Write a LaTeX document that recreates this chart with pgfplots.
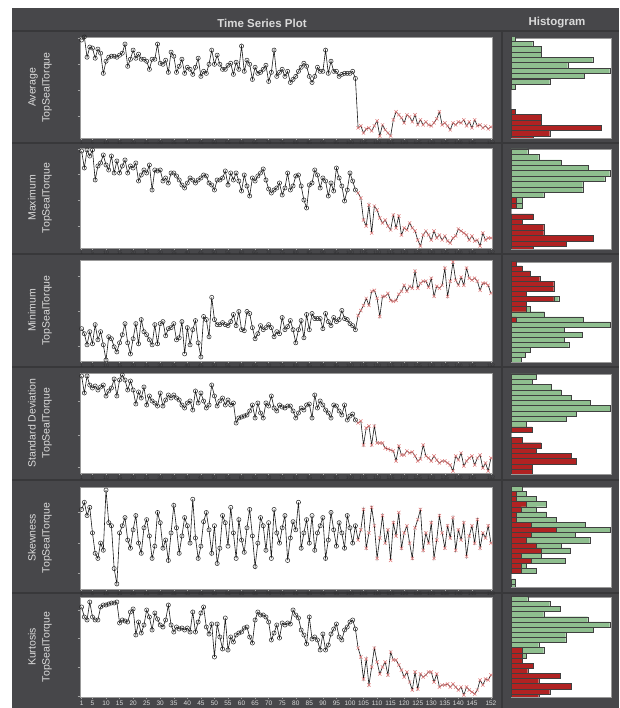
\documentclass[border=0pt]{standalone}
\usepackage{pgfplots}
\pgfplotsset{compat=1.18}
\usepackage{pgfplotstable}
\usepackage{fontspec}
\setmainfont{Liberation Sans}
\definecolor{bg}{HTML}{47474A}
\definecolor{sepc}{HTML}{38383A}
\definecolor{lbl}{HTML}{DADADA}
\definecolor{tickdark}{HTML}{303032}
\definecolor{hgreen}{HTML}{8FBF8F}
\definecolor{hred}{HTML}{B02222}
\definecolor{xred}{HTML}{E07A7A}

\pgfplotstableread{
i a b c d e f
1 97 97 32 97 78 90
2 100 80 27 80 85 80
3 80 98 16 97 72 77
4 90 92 29 88 80 95
5 89 98 17 85 55 80
6 79 68 36 87 35 77
7 88 82 21 83 30 77
8 84 85 29 86 45 90
9 64 93 16 88 38 92
10 76 83 1 77 97 92
11 80 78 24 82 65 93
12 81 92 22 85 62 94
13 81 75 14 94 20 94
14 80 87 9 77 5 95
15 82 75 18 93 55 74
16 84 82 26 98 62 77
17 93 88 37 93 70 76
18 71 75 18 83 48 75
19 78 82 7 92 40 85
20 87 80 22 83 58 88
21 79 85 37 69 72 62
22 83 67 17 81 45 75
23 78 73 41 75 35 64
24 78 78 29 86 60 72
25 76 75 26 68 68 87
26 68 83 21 77 52 80
27 78 58 16 72 30 67
28 78 78 36 70 42 84
29 93 77 17 67 75 78
30 74 78 37 80 65 72
31 73 67 39 67 40 70
32 77 70 25 73 48 77
33 65 65 32 78 28 92
34 85 75 33 75 55 72
35 81 75 37 78 82 65
36 65 72 21 75 60 70
37 71 68 23 73 35 68
38 78 63 39 68 52 69
39 64 60 7 65 70 67
40 70 65 33 70 62 69
41 68 70 16 72 45 65
42 63 68 31 63 88 85
43 70 65 40 82 50 65
44 79 68 18 70 30 75
45 61 70 4 80 42 84
46 66 73 44 72 66 90
47 64 72 41 65 75 70
48 73 65 24 68 58 63
49 87 63 63 88 35 73
50 73 58 41 77 62 40
51 82 68 36 67 25 73
52 73 68 36 72 40 60
53 68 70 38 75 72 48
54 68 77 36 68 65 79
55 72 63 35 73 42 47
56 74 75 39 68 80 60
57 63 68 46 70 55 55
58 75 75 35 50 30 62
59 68 67 49 55 68 64
60 91 57 31 56 48 65
61 66 73 30 57 36 69
62 77 62 49 58 60 70
63 73 52 47 62 78 60
64 58 70 33 68 52 54
65 70 67 22 55 22 77
66 64 72 27 70 45 85
67 65 75 35 60 70 82
68 68 79 31 55 62 82
69 72 68 33 70 38 80
70 56 59 36 67 65 75
71 65 55 33 77 30 57
72 87 58 24 65 78 64
73 61 60 29 62 55 72
74 65 65 27 68 45 59
75 68 53 43 66 60 74
76 61 60 31 65 72 72
77 66 75 34 67 28 74
78 55 58 40 67 50 73
79 58 62 31 62 66 87
80 61 72 18 55 58 82
81 66 73 31 60 85 79
82 70 62 40 65 40 67
83 74 48 23 63 55 62
84 71 40 46 68 68 53
85 61 63 31 69 45 80
86 55 65 47 55 72 58
87 61 78 42 78 38 60
88 70 73 42 65 55 57
89 66 60 42 72 62 47
90 66 70 32 68 70 63
91 87 67 47 63 30 47
92 64 52 39 60 48 52
93 76 65 35 55 75 63
94 66 57 43 68 58 68
95 66 80 39 67 42 73
96 61 70 41 62 65 60
97 63 62 50 58 55 57
98 64 47 42 68 40 67
99 64 58 41 53 72 70
100 64 75 37 57 60 75
101 66 67 35 59 45 77
102 59 58 31 53 62 68
103 10 55 45 50 48 49
104 12 50 50 52 58 40
105 5 28 55 28 78 18
106 9 22 62 45 40 38
107 10 43 55 47 55 12
108 7 15 69 28 80 30
109 12 42 70 47 62 49
110 17 38 62 30 30 35
111 2 30 44 30 50 23
112 13 25 64 30 72 30
113 8 28 64 25 45 35
114 5 22 67 24 58 22
115 2 18 60 23 28 45
116 18 33 59 22 65 37
117 26 20 60 12 52 37
118 23 32 66 27 75 32
119 20 13 69 18 40 27
120 15 20 75 18 55 20
121 23 18 69 22 62 25
122 21 25 74 20 45 15
123 16 20 72 21 30 7
124 23 17 89 17 60 25
125 13 8 72 12 68 8
126 18 2 77 14 78 23
127 13 13 79 28 38 20
128 16 17 79 17 55 22
129 13 13 73 15 45 25
130 12 8 82 12 65 25
131 15 17 64 17 30 15
132 19 10 74 13 48 23
133 26 13 72 10 72 10
134 13 8 75 12 55 12
135 15 12 92 12 40 12
136 12 7 64 10 62 13
137 8 5 79 8 50 10
138 15 10 98 2 70 13
139 13 12 80 17 38 10
140 16 19 75 13 58 7
141 15 17 83 20 48 10
142 18 15 75 7 65 2
143 12 13 92 12 32 10
144 16 8 82 15 52 7
145 10 12 80 17 62 5
146 18 7 82 8 45 3
147 12 8 79 15 68 7
148 13 2 70 18 40 17
149 10 15 77 5 55 12
150 12 8 77 10 50 18
151 9 10 75 2 62 17
152 11 10 67 15 45 22
}\ts

\pgfplotsset{
  tsax/.style={
    scale only axis, width=412pt, height=100pt, anchor=north west,
    xmin=0.4, xmax=152.4, ymin=0, ymax=100,
    axis background/.style={fill=white},
    axis line style={draw=black!40, line width=0.5pt},
    tick align=outside, major tick length=2.5pt, tick pos=left,
    tick style={draw=black!35, line width=0.5pt},
    xtick={1,5,10,15,20,25,30,35,40,45,50,55,60,65,70,75,80,85,90,95,100,105,110,115,120,125,130,135,140,145,152},
    yticklabels={},
    typeset ticklabels with strut,
    /pgf/number format/assume math mode=true,
    xticklabel style={font=\fontsize{5}{5}\selectfont, text=tickdark, inner sep=0.8pt},
  },
  hax/.style={
    scale only axis, width=100pt, height=100pt, anchor=north west,
    xmin=0, xmax=100, ymin=0, ymax=100,
    axis background/.style={fill=white},
    axis line style={draw=black!40, line width=0.5pt},
    ticks=none,
  },
  gbar/.style={xbar, bar shift=0pt, fill=hgreen, draw=black!75, line width=0.4pt},
  rbar/.style={xbar, bar shift=0pt, fill=hred, draw=black!75, line width=0.4pt},
}

\newcommand{\tsplots}[1]{%
  \addplot[black!90, line width=0.6pt, mark=none] table[x=i,y=#1]{\ts};
  \addplot[only marks, mark=o, mark size=2.1pt, mark options={draw=black!85, line width=0.5pt}, restrict x to domain=1:102] table[x=i,y=#1]{\ts};
  \addplot[only marks, mark=x, mark size=2.3pt, mark options={draw=xred, line width=0.5pt}, restrict x to domain=103:152] table[x=i,y=#1]{\ts};
}

\begin{document}
\begin{tikzpicture}[x=1pt,y=1pt]
\path[use as bounding box] (0,0) rectangle (619,708);
\fill[white] (0,0) rectangle (619,708);
\fill[bg] (12,0) rectangle (619,700);
\draw[sepc, line width=1.5pt] (12,677) -- (619,677);
\draw[sepc, line width=2pt] (502,0) -- (502,677);
\foreach \yy in {565,454,341,228,115} {\draw[sepc, line width=1.2pt] (12,\yy) -- (619,\yy);}

\node[text=lbl, font=\bfseries\fontsize{11.5}{12}\selectfont] at (262,685) {Time Series Plot};
\node[text=lbl, font=\bfseries\fontsize{11.5}{12}\selectfont] at (557,685) {Histogram};

\begin{scope}[every node/.style={rotate=90, align=center, text=lbl, font=\fontsize{10.5}{14}\selectfont}]
\node at (40,620.5) {Average\\TopSealTorque};
\node at (40,510) {Maximum\\TopSealTorque};
\node at (40,397.5) {Minimum\\TopSealTorque};
\node at (40,285) {Standard Deviation\\TopSealTorque};
\node at (40,170) {Skewness\\TopSealTorque};
\node at (40,61) {Kurtosis\\TopSealTorque};
\end{scope}

% ---- time series ----
\begin{axis}[tsax, at={(80pt,671pt)}, height=101pt, ytick={22,47.5,73,98.5}]
\tsplots{a}
\end{axis}
\begin{axis}[tsax, at={(80pt,560pt)}, ytick={22,48,74,99}]
\tsplots{b}
\end{axis}
\begin{axis}[tsax, at={(80pt,448pt)}, height=101pt, ytick={15,49,83.5}]
\tsplots{c}
\end{axis}
\begin{axis}[tsax, at={(80pt,335pt)}, ytick={6,38,72}]
\tsplots{d}
\end{axis}
\begin{axis}[tsax, at={(80pt,221pt)}, height=102pt, ytick={15,45,75}]
\tsplots{e}
\end{axis}
\begin{axis}[tsax, at={(80pt,111pt)}, ytick={1,30,58.5,87},
  xticklabel style={font=\fontsize{6.5}{6.5}\selectfont, text=lbl, inner sep=0.8pt}]
\tsplots{f}
\end{axis}

% ---- histograms ----
\begin{axis}[hax, at={(511pt,670pt)}]
\addplot[gbar, bar width=5.35] coordinates {(4.3,99.7) (21.7,94.3) (30,88.9) (30,83.5) (81.7,78.1) (56.7,72.7) (98.7,67.3) (73.3,62.0) (38.7,56.6) (4.3,51.2)};
\addplot[rbar, bar width=5.35] coordinates {(4.3,26.1) (30,20.8) (30,15.5) (90,10.1) (38.7,4.8) (22,-0.6)};
\end{axis}
\begin{axis}[hax, at={(511pt,559pt)}]
\addplot[gbar, bar width=5.4] coordinates {(16.7,97.3) (27.7,91.9) (50,86.5) (77,81.1) (98.7,75.7) (93.7,70.3) (71.7,64.9) (71.7,59.5) (32.7,54.1) (11,48.7) (11,43.3)};
\addplot[rbar, bar width=5.4] coordinates {(5.3,48.7) (5.3,43.3) (22,32.5) (11,27.1) (32.7,21.7) (32.7,16.3) (82,10.9) (55.3,5.5) (22,0.1)};
\end{axis}
\begin{axis}[hax, at={(511pt,446pt)}]
\addplot[gbar, bar width=5.1] coordinates {(47.7,63.0) (19.3,52.8) (33.3,47.7) (72,42.6) (99.3,37.5) (53.3,32.4) (71,27.3) (53.3,22.2) (57.7,17.1) (19.3,12.0) (14.3,6.9) (10,1.8)};
\addplot[rbar, bar width=5.1] coordinates {(5.3,98.7) (11,93.6) (19.3,88.5) (28.7,83.4) (42.7,78.3) (42.7,73.2) (15.3,68.1) (42.7,63.0) (15.3,57.9) (15.3,52.8) (5.3,42.6)};
\end{axis}
\begin{axis}[hax, at={(511pt,334pt)}]
\addplot[gbar, bar width=5.3] coordinates {(25.3,97.5) (21,92.2) (40,86.9) (50,81.6) (60,76.3) (79.3,71.0) (99.3,65.7) (65,60.4) (55.3,55.1) (15.3,49.8)};
\addplot[rbar, bar width=5.3] coordinates {(21,44.5) (11,33.9) (30,28.6) (25.3,23.3) (60,18.0) (65,12.7) (21,7.4) (21,2.1)};
\end{axis}
\begin{axis}[hax, at={(511pt,221pt)}]
\addplot[gbar, bar width=5.15] coordinates {(11,98.3) (15.3,93.15) (25.3,88.0) (35.3,82.85) (25.3,77.7) (35.3,72.55) (45.3,67.4) (74.3,62.25) (99.3,57.1) (64.3,51.95) (78.7,46.8) (50,41.65) (59.3,36.5) (30,31.35) (54.3,26.2) (15.3,21.05) (25.3,15.9) (4.3,5.6) (4.3,0.45)};
\addplot[rbar, bar width=5.15] coordinates {(5.3,93.15) (5.3,88.0) (15.3,82.85) (10,77.7) (5.3,72.55) (5.3,67.4) (20,62.25) (45.3,57.1) (20,51.95) (15.3,46.8) (25.3,41.65) (30,36.5) (10,31.35) (20,26.2) (10,21.05) (10,15.9)};
\end{axis}
\begin{axis}[hax, at={(511pt,111pt)}]
\addplot[gbar, bar width=5.15] coordinates {(16.7,98.3) (38.7,93.15) (49.3,88.0) (32.7,82.85) (76.7,77.7) (98.7,72.55) (82,67.4) (54.7,62.25) (54.7,57.1) (27.7,51.95) (32.7,46.8) (15.3,41.65)};
\addplot[rbar, bar width=5.15] coordinates {(11,46.8) (11,41.65) (11,36.5) (22,31.35) (16.7,26.2) (49.3,21.05) (27.7,15.9) (60,10.75) (38.7,5.6) (27.7,0.45)};
\end{axis}
\end{tikzpicture}
\end{document}
